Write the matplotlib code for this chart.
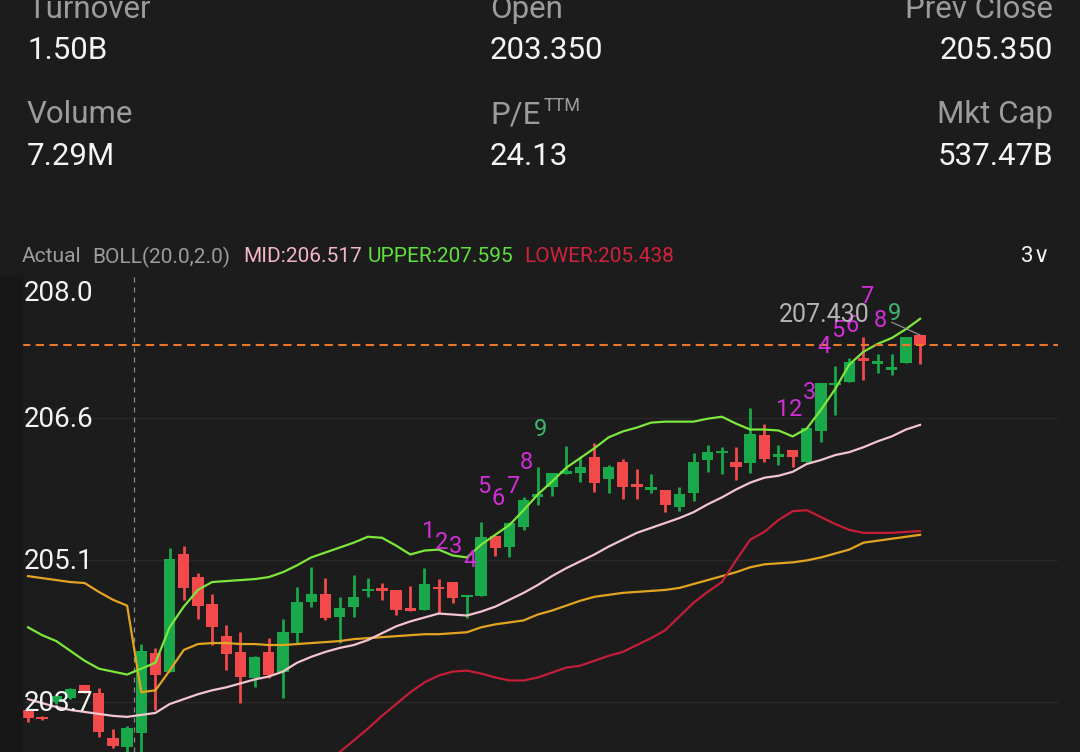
import numpy as np
import matplotlib.pyplot as plt
from matplotlib.patches import Rectangle

plt.rcParams['font.family'] = ['Roboto', 'DejaVu Sans']

# quote header
header_left = [('Turnover', '1.50B'), ('Volume', '7.29M')]
header_mid = [('Open', '203.350'), ('P/E', '24.13')]
header_right = [('Prev Close', '205.350'), ('Mkt Cap', '537.47B')]

# candles (price)
opens = [203.62, 203.55, 203.70, 203.74, 203.87, 203.79, 203.34, 203.24, 203.39, 204.20,
         204.01, 205.20, 204.97, 204.70, 204.37, 204.21, 203.95, 204.21, 204.01, 204.40,
         204.72, 204.80, 204.56, 204.67, 204.83, 204.86, 204.84, 204.65, 204.64, 204.87,
         204.92, 204.77, 204.78, 205.39, 205.28, 205.48, 205.78, 205.89, 206.02, 206.03,
         206.19, 205.97, 206.14, 205.91, 205.86, 205.86, 205.68, 205.82, 206.16, 206.23,
         206.14, 206.13, 206.41, 206.19, 206.26, 206.14, 206.45, 206.92, 206.95, 207.20,
         207.14, 207.07, 207.15, 207.43]
highs = [203.63, 203.56, 203.78, 203.84, 203.87, 203.84, 203.43, 203.46, 204.29, 204.25,
         205.27, 205.29, 205.01, 204.80, 204.48, 204.41, 204.17, 204.35, 204.54, 204.87,
         205.07, 204.96, 204.77, 204.99, 204.96, 204.91, 204.84, 204.88, 205.06, 204.95,
         204.92, 204.79, 205.53, 205.39, 205.53, 205.78, 206.09, 206.03, 206.30, 206.19,
         206.33, 206.11, 206.17, 206.07, 206.02, 205.86, 205.89, 206.23, 206.31, 206.29,
         206.29, 206.69, 206.53, 206.31, 206.26, 206.49, 206.94, 207.12, 207.20, 207.41,
         207.24, 207.24, 207.41, 207.43]
lows = [203.50, 203.52, 203.68, 203.73, 203.79, 203.35, 203.23, 203.19, 202.96, 203.62,
        204.01, 204.74, 204.54, 204.28, 204.03, 203.69, 203.85, 203.95, 203.74, 204.30,
        204.67, 204.53, 204.30, 204.56, 204.77, 204.74, 204.59, 204.63, 204.64, 204.60,
        204.71, 204.55, 204.78, 205.18, 205.17, 205.45, 205.70, 205.79, 206.02, 205.94,
        205.84, 205.82, 205.76, 205.76, 205.82, 205.63, 205.64, 205.74, 206.04, 206.02,
        205.96, 206.03, 206.14, 206.11, 206.09, 206.14, 206.34, 206.62, 206.95, 206.97,
        207.04, 207.02, 207.15, 207.14]
closes = [203.54, 203.53, 203.76, 203.83, 203.80, 203.40, 203.25, 203.44, 204.22, 203.98,
          205.15, 204.86, 204.68, 204.46, 204.19, 203.96, 204.16, 203.98, 204.41, 204.72,
          204.80, 204.55, 204.66, 204.77, 204.85, 204.83, 204.64, 204.63, 204.90, 204.85,
          204.76, 204.79, 205.38, 205.27, 205.52, 205.75, 205.81, 206.03, 206.05, 206.09,
          205.93, 206.09, 205.89, 205.89, 205.89, 205.70, 205.81, 206.14, 206.24, 206.25,
          206.09, 206.42, 206.17, 206.22, 206.19, 206.49, 206.94, 206.94, 207.16, 207.17,
          207.16, 207.11, 207.41, 207.33]

# BOLL(20, 2) and the orange average
boll_mid = [203.73, 203.69, 203.65, 203.62, 203.60, 203.58, 203.56, 203.55, 203.57, 203.59,
            203.68, 203.73, 203.78, 203.82, 203.85, 203.89, 203.93, 203.96, 204.01, 204.10,
            204.16, 204.21, 204.25, 204.28, 204.33, 204.40, 204.47, 204.52, 204.56, 204.60,
            204.59, 204.58, 204.62, 204.67, 204.74, 204.81, 204.89, 204.98, 205.06, 205.13,
            205.20, 205.28, 205.35, 205.42, 205.47, 205.52, 205.57, 205.63, 205.71, 205.78,
            205.86, 205.93, 205.98, 206.00, 206.04, 206.12, 206.16, 206.21, 206.24, 206.29,
            206.35, 206.40, 206.47, 206.517]
boll_upper = [204.46, 204.38, 204.32, 204.22, 204.12, 204.04, 204.01, 203.98, 204.04, 204.10,
              204.46, 204.67, 204.84, 204.92, 204.93, 204.94, 204.95, 204.97, 205.02, 205.09,
              205.17, 205.22, 205.27, 205.32, 205.38, 205.37, 205.29, 205.20, 205.24, 205.25,
              205.19, 205.17, 205.30, 205.40, 205.50, 205.65, 205.81, 205.94, 206.08, 206.18,
              206.28, 206.39, 206.45, 206.49, 206.54, 206.55, 206.55, 206.55, 206.58, 206.60,
              206.53, 206.47, 206.47, 206.46, 206.40, 206.48, 206.67, 206.88, 207.13, 207.26,
              207.34, 207.40, 207.49, 207.595]
boll_lower = [203.00, 203.00, 202.98, 203.02, 203.08, 203.12, 203.11, 203.12, 203.10, 203.08,
              202.87, 202.76, 202.73, 202.73, 202.78, 202.85, 202.92, 202.96, 203.01, 203.10,
              203.14, 203.08, 203.19, 203.31, 203.43, 203.56, 203.68, 203.80, 203.90, 203.97,
              204.01, 204.02, 203.99, 203.95, 203.92, 203.92, 203.95, 204.00, 204.05, 204.07,
              204.12, 204.17, 204.21, 204.28, 204.35, 204.43, 204.57, 204.71, 204.82, 204.92,
              205.14, 205.35, 205.43, 205.55, 205.64, 205.65, 205.58, 205.51, 205.45, 205.42,
              205.42, 205.42, 205.43, 205.438]
avg_line = [204.98, 204.96, 204.94, 204.92, 204.91, 204.82, 204.74, 204.68, 203.80, 203.82,
            204.02, 204.23, 204.29, 204.30, 204.30, 204.29, 204.29, 204.28, 204.28, 204.29,
            204.30, 204.31, 204.32, 204.34, 204.35, 204.36, 204.37, 204.38, 204.39, 204.39,
            204.40, 204.41, 204.46, 204.49, 204.51, 204.53, 204.59, 204.63, 204.68, 204.73,
            204.77, 204.79, 204.81, 204.82, 204.83, 204.84, 204.86, 204.90, 204.94, 204.98,
            205.02, 205.07, 205.10, 205.11, 205.12, 205.14, 205.17, 205.21, 205.25, 205.32,
            205.34, 205.36, 205.38, 205.40]

# TD sequential counts
td_index = [28, 29, 30, 31, 32, 33, 34, 35, 36, 53, 54, 55, 56, 57, 58, 59, 60, 61]
td_text = ['1', '2', '3', '4', '5', '6', '7', '8', '9', '1', '2', '3', '4', '5', '6', '7', '8', '9']
td_price = [205.43, 205.32, 205.28, 205.14, 205.89, 205.77, 205.89, 206.13, 206.47,
            206.67, 206.67, 206.85, 207.31, 207.48, 207.53, 207.82, 207.58, 207.65]

last_price = 207.33
high_mark = 207.43
y_ticks = [208.03, 206.587, 205.144, 203.701]
y_labels = ['208.0', '206.6', '205.1', '203.7']
day_break = 7.5

W, H = 1080, 752
BG = '#1c1c1c'
UP = '#19a84a'
DOWN = '#f2494b'


def fx(px):
    return px / W


def fy(py):
    return 1 - py / H


def draw_header(fig):
    gray, white = '#9c9c9c', '#f4f4f4'
    fs = 22.5
    for i, (lab, val) in enumerate(header_left):
        fig.text(fx(27), fy(18 + 105 * i), lab, color=gray, fontsize=fs, va='baseline')
        fig.text(fx(27), fy(59 + 106 * i), val, color=white, fontsize=fs, va='baseline')
    for i, (lab, val) in enumerate(header_mid):
        fig.text(fx(490), fy(18 + 105 * i), lab, color=gray, fontsize=fs, va='baseline')
        fig.text(fx(490), fy(59 + 106 * i), val, color=white, fontsize=fs, va='baseline')
    fig.text(fx(544), fy(111), 'TTM', color=gray, fontsize=13, va='baseline')
    for i, (lab, val) in enumerate(header_right):
        fig.text(fx(1053), fy(18 + 105 * i), lab, color=gray, fontsize=fs, va='baseline', ha='right')
        fig.text(fx(1053), fy(59 + 106 * i), val, color=white, fontsize=fs, va='baseline', ha='right')

    # indicator legend row
    legend = [(22, 'Actual', '#9c9c9c'), (92, 'BOLL(20.0,2.0)', '#9c9c9c'),
              (243, 'MID:%.3f' % boll_mid[-1], '#f2b6c6'),
              (368, 'UPPER:%.3f' % boll_upper[-1], '#5fe03c'),
              (524, 'LOWER:%.3f' % boll_lower[-1], '#d0223c')]
    for px, s, c in legend:
        fig.text(fx(px), fy(257), s, color=c, fontsize=15, va='center')
    fig.text(fx(1050), fy(257), '3\u2228', color='#f4f4f4', fontsize=16, va='center', ha='right')


def draw_chart(fig):
    fig.patches.append(Rectangle((0, 0), fx(22), fy(276), transform=fig.transFigure,
                                 color='#171717', zorder=0))
    ax = fig.add_axes([fx(22), 0, fx(1058) - fx(22), fy(276)])
    ax.set_facecolor(BG)
    ax.set_xlim(-0.424, 72.74)
    ax.set_ylim(203.193, 208.03)
    ax.set_xticks([])
    ax.set_yticks([])
    for sp in ax.spines.values():
        sp.set_visible(False)

    for t in y_ticks[1:]:
        ax.axhline(t, color='#282828', lw=1, zorder=0)
    ax.axvline(day_break, color='#8c8c8c', lw=0.9, ls=(0, (4, 4)), zorder=1)

    o, h, l, c = map(np.array, (opens, highs, lows, closes))
    x = np.arange(len(o))
    col = np.where(c >= o, UP, DOWN)
    bottom = np.minimum(o, c)
    height = np.maximum(np.abs(c - o), 0.022)
    ax.vlines(x, l, h, colors=col, lw=2.0, zorder=2)
    ax.bar(x, height, bottom=bottom, width=0.8, color=col, zorder=3)

    ax.plot(x, avg_line, color='#e3a521', lw=1.6, zorder=4)
    ax.plot(x, boll_lower, color='#c41d38', lw=1.6, zorder=4)
    ax.plot(x, boll_mid, color='#f4c4d0', lw=1.6, zorder=4)
    ax.plot(x, boll_upper, color='#7ce83c', lw=1.6, zorder=4)

    ax.axhline(last_price, color='#e8782a', lw=1.5, ls=(0, (4, 2.6)), zorder=5)

    for i, s, p in zip(td_index, td_text, td_price):
        ax.text(i + 0.2, p, s, color='#3cb56e' if s == '9' else '#d12fd8',
                fontsize=17, ha='center', va='center', zorder=6)

    ax.plot([61.0, len(o) - 1], [207.56, high_mark], color='#9a9a9a', lw=0.8, zorder=6)
    ax.text(59.46, 207.63, '%.3f' % high_mark, color='#b4b4b4', fontsize=18,
            ha='right', va='center', zorder=6)

    tr = ax.get_yaxis_transform()
    for t, s in zip(y_ticks, y_labels):
        top = t == y_ticks[0]
        ax.text(0.002, t - (0.04 if top else 0.02), s, transform=tr, color='#f4f4f4',
                fontsize=20, ha='left', va='top' if top else 'center', zorder=7)
    return ax


def main():
    fig = plt.figure(figsize=(10.8, 7.52), dpi=100, facecolor=BG)
    draw_header(fig)
    draw_chart(fig)
    fig.savefig('out.png', dpi=100, facecolor=BG)


if __name__ == '__main__':
    main()
